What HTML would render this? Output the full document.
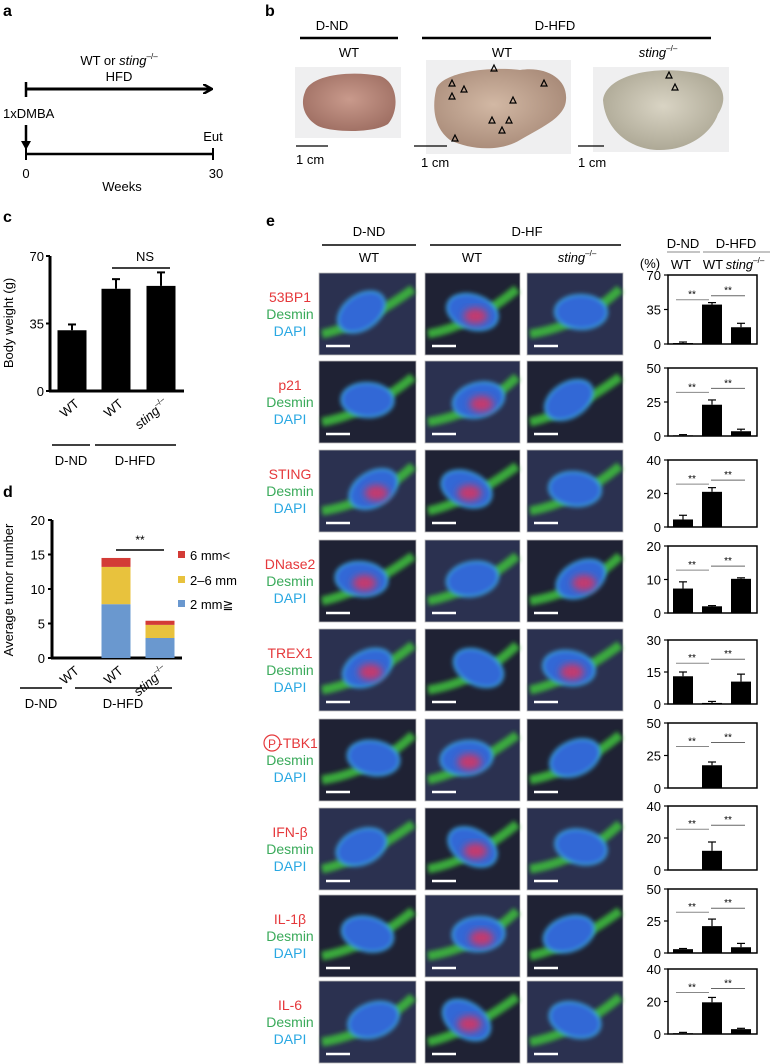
<!DOCTYPE html>
<html><head><meta charset="utf-8">
<style>
html,body{margin:0;padding:0;background:#fff;}
svg{display:block;font-family:"Liberation Sans",Arial,sans-serif;}
</style></head>
<body>
<svg id="fig" width="774" height="1064" viewBox="0 0 774 1064" xmlns="http://www.w3.org/2000/svg">
<defs>
<filter id="bl" x="-30%" y="-30%" width="160%" height="160%"><feGaussianBlur stdDeviation="2.2"/></filter>
<filter id="bl2" x="-30%" y="-30%" width="160%" height="160%"><feGaussianBlur stdDeviation="4"/></filter>
<marker id="ah" markerWidth="10" markerHeight="10" refX="8" refY="5" orient="auto" markerUnits="userSpaceOnUse"><path d="M0,0 L9,5 L0,10" fill="none" stroke="#000" stroke-width="2.5"/></marker>
<radialGradient id="liv1" cx="50%" cy="45%" r="60%"><stop offset="0" stop-color="#c99a8c"/><stop offset="1" stop-color="#9e6e62"/></radialGradient>
<radialGradient id="liv2" cx="45%" cy="45%" r="60%"><stop offset="0" stop-color="#d2b8a4"/><stop offset="1" stop-color="#a88a78"/></radialGradient>
<radialGradient id="liv3" cx="50%" cy="45%" r="60%"><stop offset="0" stop-color="#d9d4c4"/><stop offset="1" stop-color="#aaa592"/></radialGradient>
</defs>

<!-- Panel a -->
<g>
<text x="3" y="16" font-size="16" font-weight="bold">a</text>
<text x="119" y="65" font-size="13" text-anchor="middle">WT or <tspan font-style="italic">sting</tspan><tspan font-size="8" dy="-6">–/–</tspan></text>
<text x="119" y="81" font-size="13" text-anchor="middle">HFD</text>
<line x1="26" y1="82" x2="26" y2="97" stroke="#000" stroke-width="2.5"/>
<line x1="26" y1="89" x2="211" y2="89" stroke="#000" stroke-width="3" marker-end="url(#ah)"/>
<text x="3" y="118" font-size="13">1xDMBA</text>
<line x1="26" y1="125" x2="26" y2="144" stroke="#000" stroke-width="2.5"/>
<path d="M21,141 L31,141 L26,150 Z" fill="#000"/>
<line x1="26" y1="154" x2="213" y2="154" stroke="#000" stroke-width="2.5"/>
<line x1="26" y1="148" x2="26" y2="160" stroke="#000" stroke-width="2"/>
<line x1="213" y1="148" x2="213" y2="160" stroke="#000" stroke-width="2"/>
<text x="213" y="141" font-size="13" text-anchor="middle">Eut</text>
<text x="26" y="178" font-size="13" text-anchor="middle">0</text>
<text x="216" y="178" font-size="13" text-anchor="middle">30</text>
<text x="122" y="191" font-size="13" text-anchor="middle">Weeks</text>
</g>

<!-- Panel b -->
<g>
<text x="265" y="16" font-size="16" font-weight="bold">b</text>
<text x="332" y="30" font-size="13" text-anchor="middle">D-ND</text>
<line x1="300" y1="38" x2="398" y2="38" stroke="#000" stroke-width="2.5"/>
<text x="555" y="30" font-size="13" text-anchor="middle">D-HFD</text>
<line x1="422" y1="38" x2="711" y2="38" stroke="#000" stroke-width="2.5"/>
<text x="349" y="57" font-size="13" text-anchor="middle">WT</text>
<text x="502" y="57" font-size="13" text-anchor="middle">WT</text>
<text x="658" y="57" font-size="13" text-anchor="middle" font-style="italic">sting<tspan font-size="8" dy="-6" font-style="normal">–/–</tspan></text>
<rect x="295" y="67" width="106" height="71" fill="#efeff0"/>
<path d="M305,92 C310,75 350,70 380,76 C398,82 400,110 388,124 C372,134 330,132 318,126 C304,118 300,104 305,92 Z" fill="url(#liv1)"/>
<rect x="426" y="60" width="145" height="94" fill="#efeff0"/>
<path d="M436,90 C440,72 490,66 520,70 C545,66 568,78 566,100 C565,118 540,128 520,140 C500,152 470,150 450,140 C434,128 432,108 436,90 Z" fill="url(#liv2)"/>
<rect x="593" y="67" width="136" height="85" fill="#efeff0"/>
<path d="M603,100 C606,76 650,66 690,72 C722,76 730,96 718,114 C712,132 690,150 660,150 C630,150 605,130 603,100 Z" fill="url(#liv3)"/>
<g fill="none" stroke="#000" stroke-width="1.2">
<path d="M494,65 l3,6 h-6 z"/><path d="M452,80 l3,6 h-6 z"/><path d="M464,86 l3,6 h-6 z"/><path d="M452,93 l3,6 h-6 z"/><path d="M544,80 l3,6 h-6 z"/><path d="M513,97 l3,6 h-6 z"/><path d="M492,117 l3,6 h-6 z"/><path d="M509,117 l3,6 h-6 z"/><path d="M502,127 l3,6 h-6 z"/><path d="M455,135 l3,6 h-6 z"/><path d="M669,72 l3,6 h-6 z"/><path d="M675,84 l3,6 h-6 z"/>
</g>
<line x1="296" y1="146" x2="328" y2="146" stroke="#000" stroke-width="1.3"/>
<text x="296" y="164" font-size="13">1 cm</text>
<line x1="414" y1="146" x2="447" y2="146" stroke="#000" stroke-width="1.3"/>
<text x="421" y="167" font-size="13">1 cm</text>
<line x1="578" y1="146" x2="604" y2="146" stroke="#000" stroke-width="1.3"/>
<text x="578" y="167" font-size="13">1 cm</text>
</g>

<!-- Panel c -->
<g id="pc">
<text x="3" y="222" font-size="16" font-weight="bold">c</text>
<text transform="translate(13,323) rotate(-90)" font-size="13" text-anchor="middle">Body weight (g)</text>
</g>

<!-- Panel d -->
<g id="pd">
<text x="3" y="497" font-size="16" font-weight="bold">d</text>
<text transform="translate(13,590) rotate(-90)" font-size="13" text-anchor="middle">Average tumor number</text>
</g>

<!-- Panel e -->
<g id="pe">
<text x="266" y="226" font-size="16" font-weight="bold">e</text>
<text x="369" y="236" font-size="13" text-anchor="middle">D-ND</text>
<line x1="322" y1="245" x2="416" y2="245" stroke="#000" stroke-width="1.5"/>
<text x="527" y="236" font-size="13" text-anchor="middle">D-HF</text>
<line x1="430" y1="245" x2="621" y2="245" stroke="#000" stroke-width="1.5"/>
<text x="369" y="262" font-size="13" text-anchor="middle">WT</text>
<text x="472" y="262" font-size="13" text-anchor="middle">WT</text>
<text x="577" y="262" font-size="13" text-anchor="middle" font-style="italic">sting<tspan font-size="8" dy="-6" font-style="normal">–/–</tspan></text>
<text x="683" y="248" font-size="13" text-anchor="middle">D-ND</text>
<text x="736" y="248" font-size="13" text-anchor="middle">D-HFD</text>
<line x1="667" y1="252" x2="700" y2="252" stroke="#888" stroke-width="1"/>
<line x1="703" y1="252" x2="770" y2="252" stroke="#888" stroke-width="1"/>
<text x="650" y="268" font-size="13" text-anchor="middle">(%)</text>
<text x="681" y="269" font-size="13" text-anchor="middle">WT</text>
<text x="713" y="269" font-size="13" text-anchor="middle">WT</text>
<text x="745" y="269" font-size="13" text-anchor="middle" font-style="italic">sting<tspan font-size="8" dy="-6" font-style="normal">–/–</tspan></text>
</g>
</svg>

<script>
// ---------- Panel c data ----------
const cCategories = ["WT", "WT", "sting"];
const cValues = [31.5, 53, 54.5];
const cErrors = [3, 5, 7];
const cTicks = [0, 35, 70];

// ---------- Panel d data ----------
const dCategories = ["WT", "WT", "sting"];
const dSmall = [0, 7.8, 2.9];
const dMid = [0, 5.4, 1.9];
const dLarge = [0, 1.3, 0.6];
const dTicks = [0, 5, 10, 15, 20];
const dLegend = ["6 mm<", "2–6 mm", "2 mm≧"];

// ---------- Panel e data ----------
const eMarkers = ["53BP1", "p21", "STING", "DNase2", "TREX1", "P-TBK1", "IFN-β", "IL-1β", "IL-6"];
const eMax = [70, 50, 40, 20, 30, 50, 40, 50, 40];
const eMid = [35, 25, 20, 10, 15, 25, 20, 25, 20];
const eNdWt = [1, 0.5, 4.5, 7.3, 13, 0.3, 0, 3, 0.5];
const eHfdWt = [40, 23, 21, 2, 0.5, 17.5, 12, 21, 19.5];
const eHfdSting = [17, 3.5, 0, 10.2, 10.5, 0.2, 0.3, 4.5, 3];
const eErrNdWt = [1, 0.5, 2.5, 2, 2, 0, 0, 0.5, 0.5];
const eErrHfdWt = [2, 3.5, 2.5, 0.2, 0.7, 2.5, 5.5, 5.5, 3];
const eErrHfdSting = [4, 1.5, 0, 0.3, 3.5, 0, 0, 3, 0.5];

const NS = "http://www.w3.org/2000/svg";
function mk(parent, tag, attrs, text) {
  const el = document.createElementNS(NS, tag);
  for (const k in attrs) el.setAttribute(k, attrs[k]);
  if (text !== undefined) el.textContent = text;
  parent.appendChild(el);
  return el;
}
const svg = document.getElementById("fig");

// ---------- Panel c ----------
(function () {
  const g = document.getElementById("pc");
  const y0 = 391, y1 = 256, ax = 50;
  const yS = v => y0 - (v / 70) * (y0 - y1);
  const xs = [72, 116, 161], bw = 29;
  let el = mk(g, "line", { x1: ax, y1: y1, x2: ax, y2: y0 + 1, stroke: "#000", "stroke-width": 3 });
  
  
  el = mk(g, "line", { x1: ax - 1, y1: y0, x2: 184, y2: y0, stroke: "#000", "stroke-width": 3 });
  
  
  cTicks.forEach(t => {
    mk(g, "line", { x1: ax - 4, y1: yS(t), x2: ax, y2: yS(t), stroke: "#000", "stroke-width": 2 });
    const tx = mk(g, "text", { x: ax - 6, y: yS(t) + 5, "font-size": 13, "text-anchor": "end" }, String(t));
    
    
  });
  cValues.forEach((v, i) => {
    const r = mk(g, "rect", { x: xs[i] - bw / 2, y: yS(v), width: bw, height: y0 - yS(v), fill: "#000" });
    
    
    const e = yS(v + cErrors[i]);
    mk(g, "line", { x1: xs[i], y1: e, x2: xs[i], y2: yS(v), stroke: "#000", "stroke-width": 2 });
    mk(g, "line", { x1: xs[i] - 4, y1: e, x2: xs[i] + 4, y2: e, stroke: "#000", "stroke-width": 2 });
    const lab = mk(g, "text", { transform: `translate(${xs[i] + 8},${y0 + 14}) rotate(-40)`, "font-size": 13, "text-anchor": "end", "font-style": i === 2 ? "italic" : "normal" }, cCategories[i]);
    if (i === 2) { const ts = mk(lab, "tspan", { "font-size": 8, dy: -6, "font-style": "normal" }, "–/–"); }
    
    
  });
  mk(g, "text", { x: 145, y: 261, "font-size": 13, "text-anchor": "middle" }, "NS");
  mk(g, "line", { x1: 112, y1: 268, x2: 170, y2: 268, stroke: "#000", "stroke-width": 1.5 });
  mk(g, "line", { x1: 52, y1: 445, x2: 90, y2: 445, stroke: "#000", "stroke-width": 1.5 });
  mk(g, "line", { x1: 95, y1: 445, x2: 176, y2: 445, stroke: "#000", "stroke-width": 1.5 });
  mk(g, "text", { x: 71, y: 465, "font-size": 13, "text-anchor": "middle" }, "D-ND");
  mk(g, "text", { x: 135, y: 465, "font-size": 13, "text-anchor": "middle" }, "D-HFD");
})();

// ---------- Panel d ----------
(function () {
  const g = document.getElementById("pd");
  const y0 = 658, y1 = 520, ax = 52;
  const yS = v => y0 - (v / 20) * (y0 - y1);
  const xs = [72, 116, 160], bw = 29;
  const cols = ["#6a98cf", "#e8c23d", "#d33b36"];
  let el = mk(g, "line", { x1: ax, y1: y1, x2: ax, y2: y0 + 1, stroke: "#000", "stroke-width": 3 });
  
  
  el = mk(g, "line", { x1: ax - 1, y1: y0, x2: 182, y2: y0, stroke: "#000", "stroke-width": 3 });
  
  
  dTicks.forEach(t => {
    mk(g, "line", { x1: ax - 4, y1: yS(t), x2: ax, y2: yS(t), stroke: "#000", "stroke-width": 2 });
    const tx = mk(g, "text", { x: ax - 7, y: yS(t) + 5, "font-size": 13, "text-anchor": "end" }, String(t));
    
    
  });
  dCategories.forEach((c, i) => {
    const segs = [dSmall[i], dMid[i], dLarge[i]];
    let base = 0;
    segs.forEach((s, k) => {
      if (s > 0) {
        const r = mk(g, "rect", { x: xs[i] - bw / 2, y: yS(base + s), width: bw, height: yS(base) - yS(base + s), fill: cols[k] });
        
        
      }
      base += s;
    });
    const lab = mk(g, "text", { transform: `translate(${xs[i] + 8},${y0 + 14}) rotate(-40)`, "font-size": 13, "text-anchor": "end", "font-style": i === 2 ? "italic" : "normal" }, c);
    if (i === 2) mk(lab, "tspan", { "font-size": 8, dy: -6, "font-style": "normal" }, "–/–");
    
    
  });
  mk(g, "text", { x: 140, y: 544, "font-size": 12, "text-anchor": "middle" }, "**");
  mk(g, "line", { x1: 116, y1: 550, x2: 164, y2: 550, stroke: "#000", "stroke-width": 1.5 });
  const ly = [555, 580, 604], lc = [cols[2], cols[1], cols[0]];
  dLegend.forEach((t, i) => {
    const r = mk(g, "rect", { x: 178, y: ly[i] - 4, width: 7, height: 7, fill: lc[i] });
    
    
    const tx = mk(g, "text", { x: 190, y: ly[i] + 5, "font-size": 13 }, t);
    
    
  });
  mk(g, "line", { x1: 20, y1: 688, x2: 62, y2: 688, stroke: "#000", "stroke-width": 1.5 });
  mk(g, "line", { x1: 75, y1: 688, x2: 172, y2: 688, stroke: "#000", "stroke-width": 1.5 });
  mk(g, "text", { x: 41, y: 708, "font-size": 13, "text-anchor": "middle" }, "D-ND");
  mk(g, "text", { x: 123, y: 708, "font-size": 13, "text-anchor": "middle" }, "D-HFD");
})();

// ---------- Panel e ----------
(function () {
  const g = document.getElementById("pe");
  const rowTops = [273, 361, 450, 540, 629, 719, 808, 895, 981];
  const colX = [319, 425, 527], colW = [97, 95, 96], imgH = 82;
  const cTop = [275, 368, 460, 546, 640, 723, 806, 889, 969];
  const cBot = [344, 436, 527, 613, 704, 788, 870, 953, 1034];
  // which image panels show red signal
  const redOn = [[0,1,0],[0,1,0],[1,1,0],[1,0,1],[1,0,1],[0,1,0],[0,1,0],[0,1,0],[0,1,0]];
  eMarkers.forEach((m, r) => {
    const top = rowTops[r], cy = top + imgH / 2;
    // label
    const lab = mk(g, "text", { x: 290, y: cy - 12, "font-size": 14, "text-anchor": "middle", fill: "#e5383b" }, m === "P-TBK1" ? "-TBK1" : m);
    
    
    if (m === "P-TBK1") {
      lab.setAttribute('x', 298);
      mk(g, "circle", { cx: 272, cy: cy - 17, r: 8, fill: "none", stroke: "#e5383b", "stroke-width": 1.2 });
      mk(g, "text", { x: 272, y: cy - 12, "font-size": 12, "text-anchor": "middle", fill: "#e5383b" }, "P");
    }
    mk(g, "text", { x: 290, y: cy + 5, "font-size": 14, "text-anchor": "middle", fill: "#3aaa5a" }, "Desmin");
    mk(g, "text", { x: 290, y: cy + 22, "font-size": 14, "text-anchor": "middle", fill: "#2aa8e2" }, "DAPI");
    // images
    colX.forEach((x0, c) => {
      const w = colW[c];
      const ig = mk(g, "g", {});
      
      
      mk(ig, "rect", { x: x0, y: top, width: w, height: imgH, fill: (r + c) % 2 ? "#1f2234" : "#2b3150", stroke: "#bbb", "stroke-width": 0.8 });
      const cs = mk(ig, "g", {});
      cs.setAttribute("clip-path", "none");
      const ang = ((r * 37 + c * 53) % 70) - 35;
      const ccx = x0 + w / 2 + ((r + c) % 3 - 1) * 6, ccy = cy - 2;
      mk(ig, "path", { d: `M${x0+3},${cy+20} Q${ccx},${cy+12} ${x0+w-3},${cy-25}`, stroke: "#3cb83c", "stroke-width": 9, fill: "none", filter: "url(#bl)", opacity: 0.9 });
      mk(ig, "ellipse", { cx: ccx, cy: ccy, rx: 26, ry: 17, transform: `rotate(${ang} ${ccx} ${ccy})`, fill: "#3068d6", stroke: "#3aa8e8", "stroke-width": 2, filter: "url(#bl)" });
      if (redOn[r][c]) mk(ig, "ellipse", { cx: ccx + 3, cy: ccy + 4, rx: 12, ry: 8, fill: "#e0305a", opacity: 0.85, filter: "url(#bl2)" });
      mk(ig, "line", { x1: x0 + 7, y1: top + imgH - 9, x2: x0 + 31, y2: top + imgH - 9, stroke: "#fff", "stroke-width": 2.5 });
    });
    // chart
    const y0 = cBot[r], y1 = cTop[r], mx = eMax[r];
    const yS = v => y0 - (v / mx) * (y0 - y1);
    const box = mk(g, "rect", { x: 668, y: y1, width: 89, height: y0 - y1, fill: "none", stroke: "#000", "stroke-width": 1.5 });
    
    
    [0, eMid[r], mx].forEach(t => {
      mk(g, "line", { x1: 664, y1: yS(t), x2: 668, y2: yS(t), stroke: "#000", "stroke-width": 1.2 });
      const tx = mk(g, "text", { x: 661, y: yS(t) + 5, "font-size": 13, "text-anchor": "end" }, String(t));
      
      
    });
    const vals = [eNdWt[r], eHfdWt[r], eHfdSting[r]];
    const errs = [eErrNdWt[r], eErrHfdWt[r], eErrHfdSting[r]];
    const bx = [683, 712, 741];
    vals.forEach((v, i) => {
      const b = mk(g, "rect", { x: bx[i] - 10, y: yS(v), width: 20, height: Math.max(0, y0 - yS(v)), fill: "#000" });
      
      
      if (errs[i] > 0) {
        const e = yS(v + errs[i]);
        mk(g, "line", { x1: bx[i], y1: e, x2: bx[i], y2: yS(v), stroke: "#000", "stroke-width": 1.2 });
        mk(g, "line", { x1: bx[i] - 4, y1: e, x2: bx[i] + 4, y2: e, stroke: "#000", "stroke-width": 1.2 });
      }
    });
    const sy = y1 + (y0 - y1) * 0.3;
    mk(g, "line", { x1: 676, y1: sy + 4, x2: 709, y2: sy + 4, stroke: "#888", "stroke-width": 1 });
    mk(g, "line", { x1: 711, y1: sy, x2: 745, y2: sy, stroke: "#666", "stroke-width": 1 });
    mk(g, "text", { x: 692, y: sy + 2, "font-size": 10, "text-anchor": "middle" }, "**");
    mk(g, "text", { x: 728, y: sy - 2, "font-size": 10, "text-anchor": "middle" }, "**");
  });
})();
</script>
</body></html>
